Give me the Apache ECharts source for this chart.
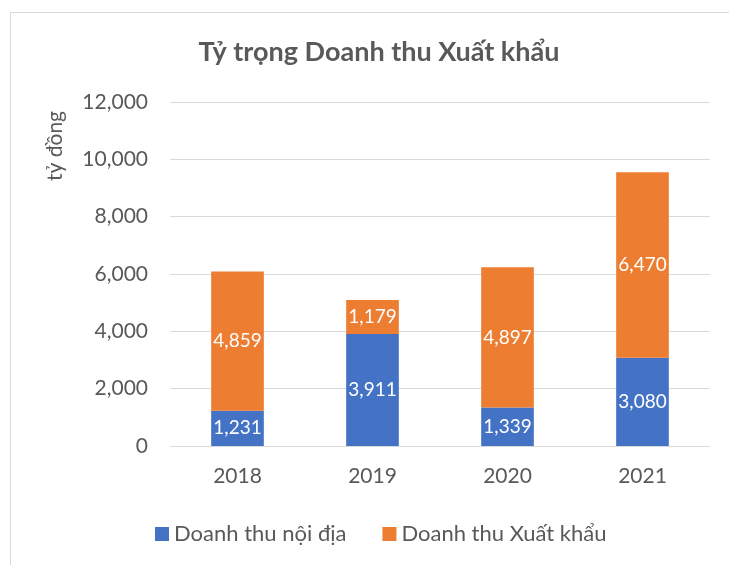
<!DOCTYPE html>
<html lang="vi">
<head>
<meta charset="UTF-8">
<title>Tỷ trọng Doanh thu Xuất khẩu</title>
<script src="https://cdn.jsdelivr.net/npm/echarts@6/dist/echarts.min.js"></script>
<style>
  body { margin: 0; background: #fff; }
</style>
</head>
<body>
<div id="main" style="width: 729px;height: 565px;"></div>
<script>
var years = ['2018', '2019', '2020', '2021'];
var noiDia = [1231, 3911, 1339, 3080];
var xuatKhau = [4859, 1179, 4897, 6470];
var yTicks = [0, 2000, 4000, 6000, 8000, 10000, 12000];

var FONT = 'Lato';
var TXT = '#595959';

var chart = echarts.init(document.getElementById('main'));

function fmt(v) {
  return v.toLocaleString('en-US');
}

var labelStyle = {
  show: true,
  color: '#fff',
  fontFamily: FONT,
  fontSize: 19,
  formatter: function (p) { return fmt(p.value); }
};

var option = {
  animation: false,
  textStyle: { fontFamily: FONT },
  title: {
    text: 'Tỷ trọng Doanh thu Xuất khẩu',
    left: 374,
    top: 34,
    textAlign: 'center',
    textStyle: { color: TXT, fontFamily: FONT, fontSize: 27, fontWeight: 'bold' }
  },
  graphic: [
    {
      type: 'rect',
      shape: { x: 10.5, y: 12.5, width: 800, height: 700 },
      style: { fill: 'none', stroke: '#d9d9d9', lineWidth: 1 },
      silent: true
    },
    {
      type: 'text',
      x: 55,
      y: 146,
      rotation: Math.PI / 2,
      style: {
        text: 'tỷ đồng',
        fill: TXT,
        font: '21px ' + FONT,
        align: 'center',
        verticalAlign: 'middle'
      }
    }
  ],
  legend: {
    top: 518,
    left: 150,
    itemWidth: 14,
    itemHeight: 14,
    itemGap: 36,
    icon: 'rect',
    textStyle: { color: TXT, fontFamily: FONT, fontSize: 22 },
    data: ['Doanh thu nội địa', 'Doanh thu Xuất khẩu']
  },
  grid: { left: 170, right: 19, top: 102, bottom: 119, containLabel: false },
  xAxis: {
    type: 'category',
    data: years,
    axisTick: { show: false },
    axisLine: { lineStyle: { color: '#d9d9d9' } },
    axisLabel: { color: TXT, fontFamily: FONT, fontSize: 21, margin: 20 }
  },
  yAxis: {
    type: 'value',
    min: yTicks[0],
    max: yTicks[yTicks.length - 1],
    interval: 2000,
    axisLine: { show: false },
    axisTick: { show: false },
    splitLine: { lineStyle: { color: '#d9d9d9' } },
    axisLabel: { color: TXT, fontFamily: FONT, fontSize: 21, margin: 22, formatter: fmt }
  },
  series: [
    {
      name: 'Doanh thu nội địa',
      type: 'bar',
      stack: 'tong',
      barWidth: '39%',
      itemStyle: { color: '#4472C4' },
      label: labelStyle,
      data: noiDia
    },
    {
      name: 'Doanh thu Xuất khẩu',
      type: 'bar',
      stack: 'tong',
      barWidth: '39%',
      itemStyle: { color: '#ED7D31' },
      label: labelStyle,
      data: xuatKhau
    }
  ]
};

chart.setOption(option);
</script>
</body>
</html>
